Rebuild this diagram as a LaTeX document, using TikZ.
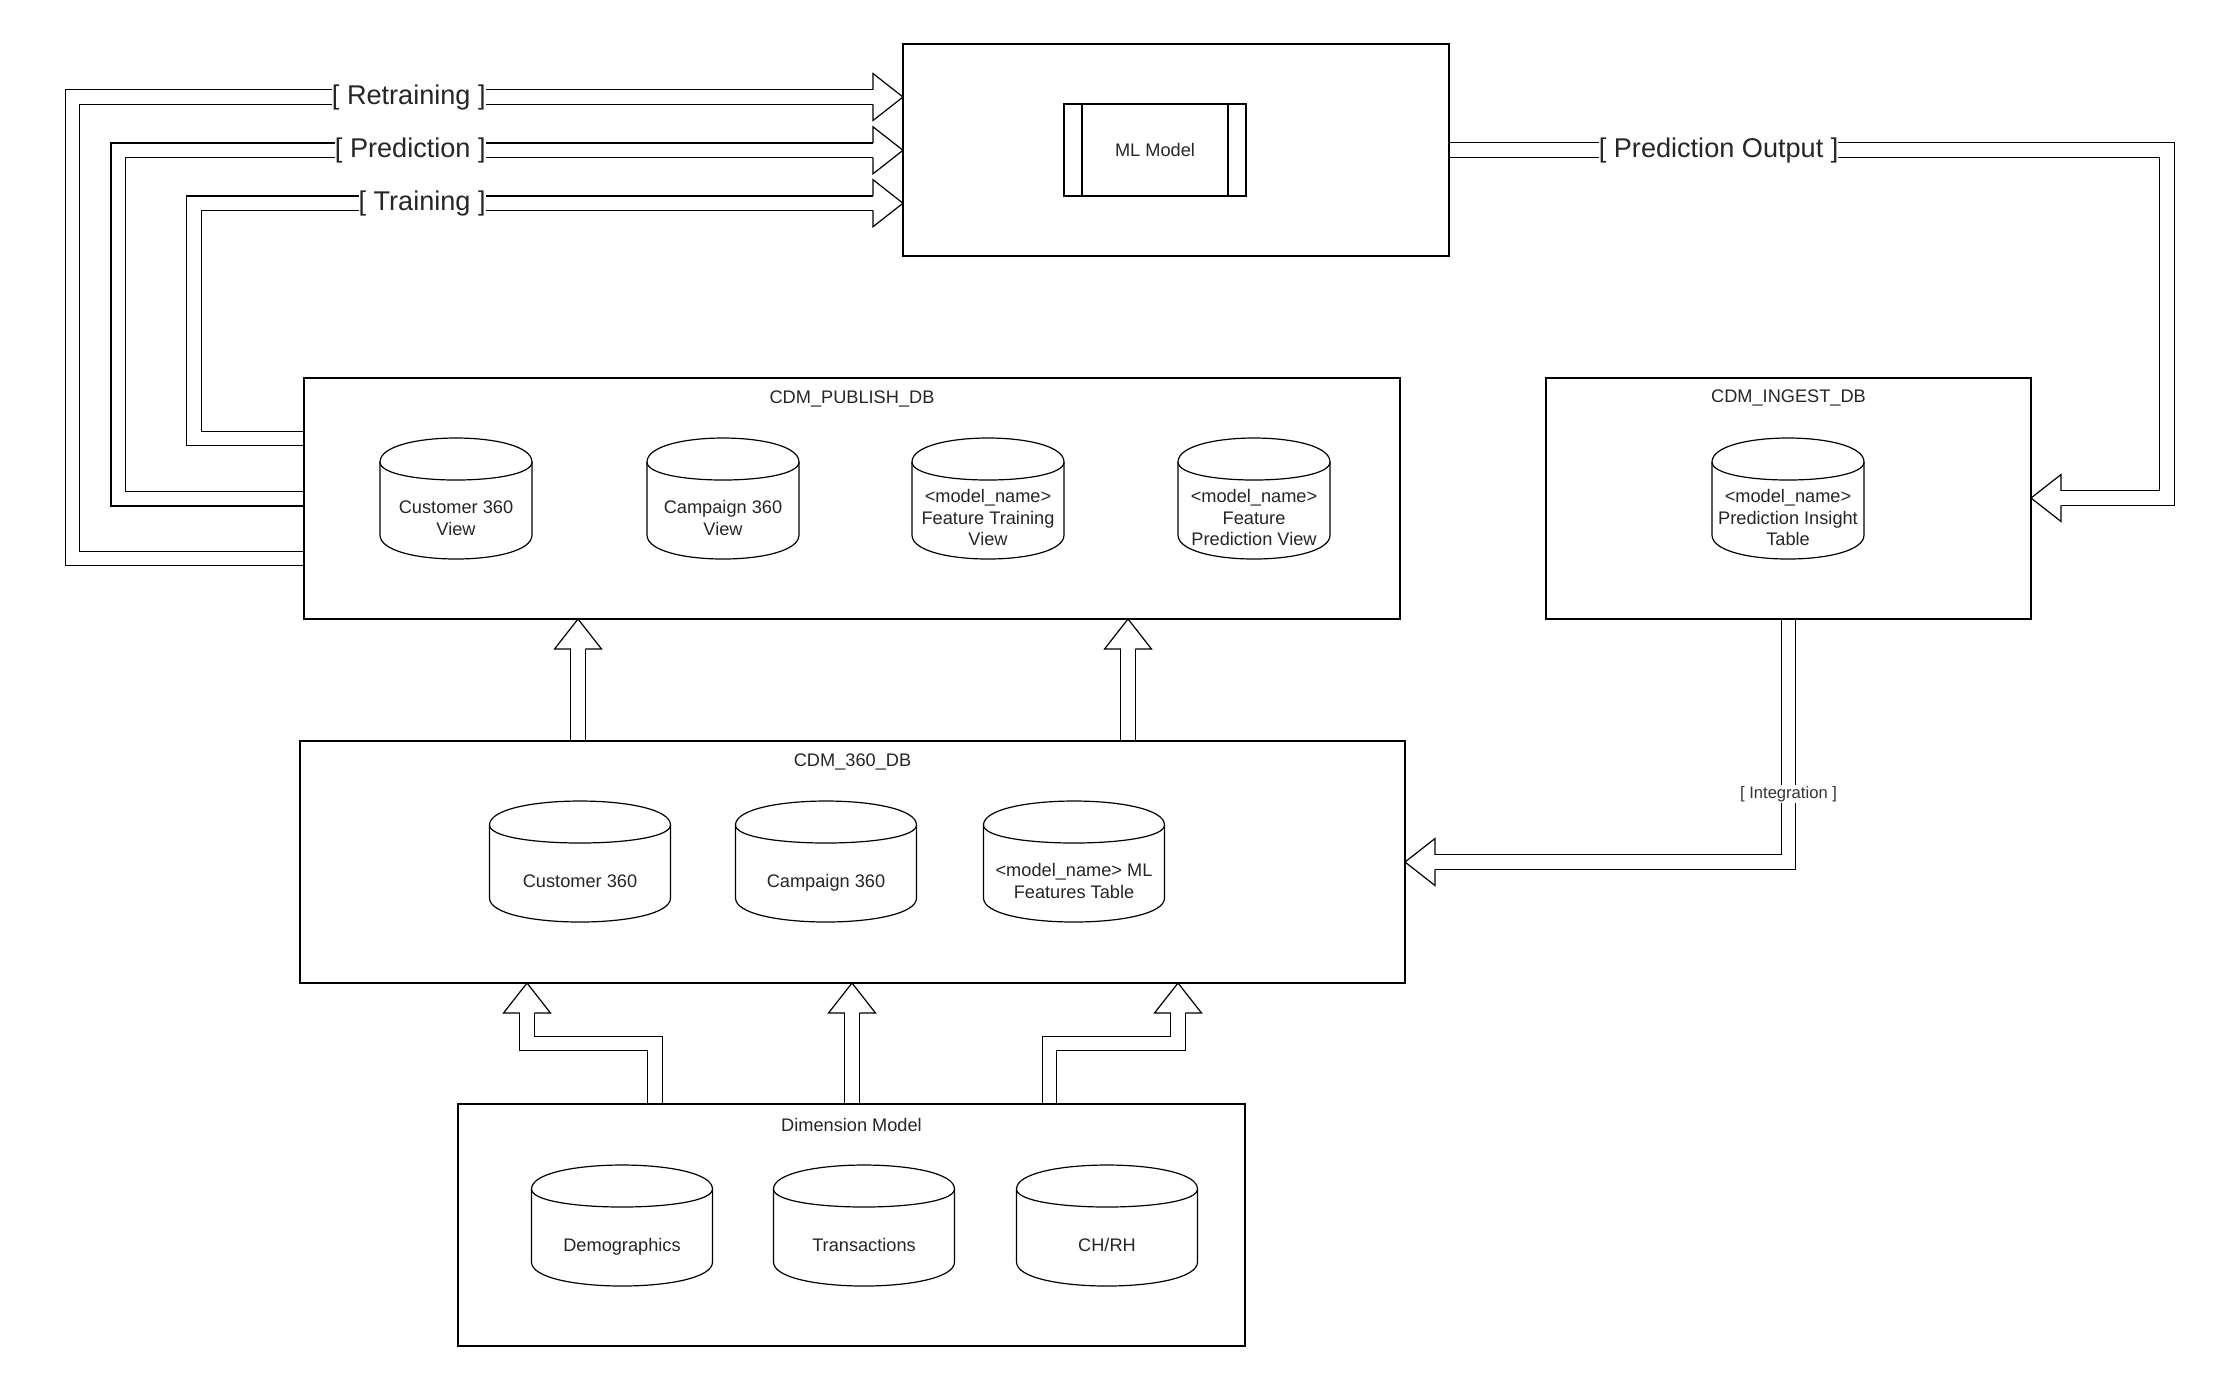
\documentclass[tikz,border=0pt]{standalone}
\usepackage{fontspec}
\setmainfont{Liberation Sans}
\usetikzlibrary{calc}
\pgfdeclarelayer{bg}
\pgfsetlayers{bg,main}

% cylinder: #1 name, #2 centre x, #3 top y, #4 half width (px), #5 text
\newcommand\dbcyl[5]{%
  \node[inner sep=0, outer sep=0, minimum width=#4pt, minimum height=60.5pt] (#1) at (#2,#3+60.5) {};
  \draw[cylst] (#2-#4,#3+24) .. controls (#2-#4,#3-8) and (#2+#4,#3-8) .. (#2+#4,#3+24)
     -- (#2+#4,#3+97) .. controls (#2+#4,#3+129) and (#2-#4,#3+129) .. (#2-#4,#3+97) -- cycle;
  \draw[cylst] (#2-#4,#3+24) .. controls (#2-#4,#3+48) and (#2+#4,#3+48) .. (#2+#4,#3+24);
  \node[txt] (#1t) at (#2,#3+82) {\strut #5\strut};
}
\newcommand\hR[1]{\filldraw[headst] ($(#1)+(-30,-7.25)$) -- ($(#1)+(-30,-23.5)$) -- (#1) -- ($(#1)+(-30,23.5)$) -- ($(#1)+(-30,7.25)$);}
\newcommand\hL[1]{\filldraw[headst] ($(#1)+(30,-7.25)$) -- ($(#1)+(30,-23.5)$) -- (#1) -- ($(#1)+(30,23.5)$) -- ($(#1)+(30,7.25)$);}
\newcommand\hU[1]{\filldraw[headst] ($(#1)+(-7.25,30)$) -- ($(#1)+(-23.5,30)$) -- (#1) -- ($(#1)+(23.5,30)$) -- ($(#1)+(7.25,30)$);}

\begin{document}
\begin{tikzpicture}[x=0.5pt,y=-0.5pt,
  dbbox/.style={draw=black, line width=0.6pt, inner sep=0, outer sep=0},
  cylst/.style={draw=black, line width=0.6pt},
  txt/.style={font=\fontsize{9.1}{10.8}\selectfont, align=center, inner sep=0, text=black!85},
  lbl/.style={font=\fontsize{13.55}{16}\selectfont, fill=white, inner sep=0, text=black!85},
  ilbl/.style={font=\fontsize{8.3}{10}\selectfont, fill=white, inner sep=0.6pt, text=black!80},
  shaft/.style={draw=black, double=white, double distance=6.65pt, line width=0.6pt, line join=miter},
  headst/.style={fill=white, draw=black, line width=0.6pt, line join=miter}]
\useasboundingbox (0,0) rectangle (2236,1389);

% ---------- boxes ----------
\node[dbbox, minimum width=273pt, minimum height=106pt] (ml) at (1176,150) {};
\node[dbbox, minimum width=91pt, minimum height=46pt] (mlm) at (1155,150) {};
\draw[cylst] ($(mlm.north west)+(18,0)$) -- ($(mlm.south west)+(18,0)$);
\draw[cylst] ($(mlm.north east)+(-18,0)$) -- ($(mlm.south east)+(-18,0)$);
\node[txt] (mlt) at (1155,150) {ML Model};

\node[dbbox, minimum width=548pt, minimum height=120.5pt] (pub) at (852,498.5) {};
\node[txt] (pubT) at (852,398.5) {CDM\_PUBLISH\_DB};
\node[dbbox, minimum width=242.5pt, minimum height=120.5pt] (ing) at (1788.5,498.5) {};
\node[txt] (ingT) at (1788.5,398) {CDM\_INGEST\_DB};
\node[dbbox, minimum width=552.5pt, minimum height=121pt] (c360) at (852.5,862) {};
\node[txt] (c360T) at (852.5,762) {CDM\_360\_DB};
\node[dbbox, minimum width=393.5pt, minimum height=121pt] (dim) at (851.5,1225) {};
\node[txt] (dimT) at (851.5,1125) {Dimension Model};

% ---------- cylinders ----------
\dbcyl{p1}{456}{438}{76}{Customer 360\\View}
\dbcyl{p2}{723}{438}{76}{Campaign 360\\View}
\dbcyl{p3}{988}{438}{76}{<model\_name>\\Feature Training\\View}
\dbcyl{p4}{1254}{438}{76}{<model\_name>\\Feature\\Prediction View}
\dbcyl{i1}{1788}{438}{76}{<model\_name>\\Prediction Insight\\Table}
\dbcyl{s1}{580}{801}{90.5}{Customer 360}
\dbcyl{s2}{826}{801}{90.5}{Campaign 360}
\dbcyl{s3}{1074}{801}{90.5}{<model\_name> ML\\Features Table}
\dbcyl{d1}{622}{1165}{90.5}{Demographics}
\dbcyl{d2}{864}{1165}{90.5}{Transactions}
\dbcyl{d3}{1107}{1165}{90.5}{CH/RH}

% ---------- connectors ----------
\begin{pgfonlayer}{bg}
\fill[white] (0,0) rectangle (2236,1389);
% to ML model
\coordinate (tRe) at (ml.west |- 0,97);
\coordinate (tPr) at (ml.west |- 0,150.3);
\coordinate (tTr) at (ml.west |- 0,203.2);
\draw[shaft] (pub.west |- 0,558.6) -| (72.4,97) -- ($(tRe)+(-30,0)$);
\hR{tRe}
\draw[shaft] (pub.west |- 0,498.7) -| (118.2,150.3) -- ($(tPr)+(-30,0)$);
\hR{tPr}
\draw[shaft] (pub.west |- 0,438.4) -| (194,203.2) -- ($(tTr)+(-30,0)$);
\hR{tTr}
% prediction output
\coordinate (tPO) at (ing.east |- 0,498);
\draw[shaft] (ml.east |- 0,150) -| (2167,498) -- ($(tPO)+(30,0)$);
\hL{tPO}
% integration
\coordinate (tIn) at (c360.east |- 0,862);
\draw[shaft] (ing.south) |- ($(tIn)+(30,0)$);
\hL{tIn}
% 360 -> publish
\coordinate (tU1) at (pub.south -| 578,0);
\coordinate (tU2) at (pub.south -| 1128,0);
\draw[shaft] (c360.north -| 578,0) -- ($(tU1)+(0,30)$);
\hU{tU1}
\draw[shaft] (c360.north -| 1128,0) -- ($(tU2)+(0,30)$);
\hU{tU2}
% dimension -> 360
\coordinate (tD1) at (c360.south -| 527,0);
\coordinate (tD2) at (c360.south -| 852,0);
\coordinate (tD3) at (c360.south -| 1178,0);
\draw[shaft] (dim.north -| 655,0) |- (527,1043.4) -- ($(tD1)+(0,30)$);
\hU{tD1}
\draw[shaft] (dim.north -| 852,0) -- ($(tD2)+(0,30)$);
\hU{tD2}
\draw[shaft] (dim.north -| 1049.5,0) |- (1178,1043.4) -- ($(tD3)+(0,30)$);
\hU{tD3}
\end{pgfonlayer}

% ---------- connector labels ----------
\node[lbl, anchor=east] (lRe) at (486,97) {[ Retraining ]};
\node[lbl, anchor=east] (lPr) at (486,150.3) {[ Prediction ]};
\node[lbl, anchor=east] (lTr) at (486,203.2) {[ Training ]};
\node[lbl] (lPO) at (1718.6,150) {[ Prediction Output ]};
\node[ilbl] (lIn) at (1788.5,794) {[ Integration ]};
\end{tikzpicture}
\end{document}
